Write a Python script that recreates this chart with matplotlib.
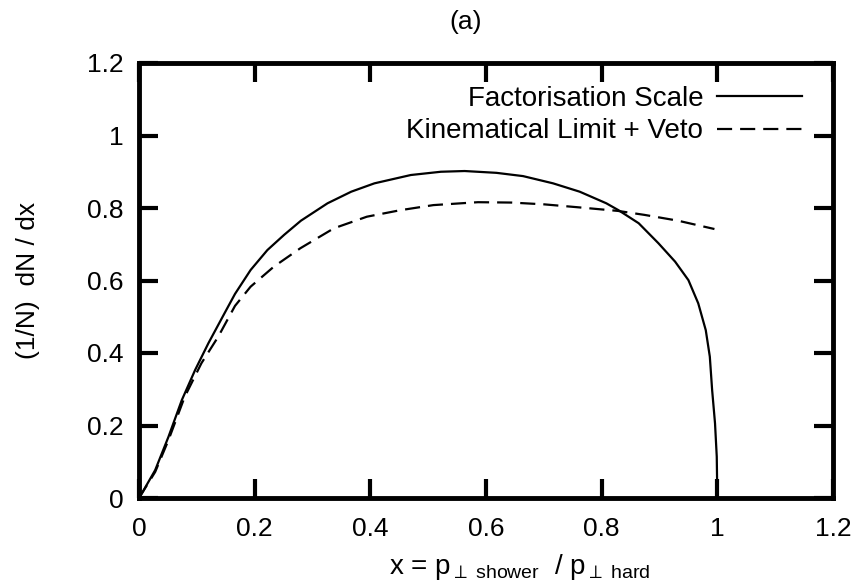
import numpy as np
import matplotlib
matplotlib.use('Agg')
import matplotlib.pyplot as plt

plt.rcParams['font.family'] = ['Liberation Sans', 'DejaVu Sans']
plt.rcParams['mathtext.fontset'] = 'custom'
plt.rcParams['mathtext.rm'] = 'Liberation Sans'
plt.rcParams['mathtext.it'] = 'Liberation Sans'

# DATA --------------------------------------------------------------------->
x_fact = [0.0, 0.005, 0.028, 0.051, 0.074, 0.097, 0.120, 0.148, 0.166, 0.193,
          0.222, 0.251, 0.280, 0.326, 0.367, 0.407, 0.470, 0.522, 0.563, 0.618,
          0.664, 0.716, 0.762, 0.808, 0.829, 0.864, 0.898, 0.927, 0.950, 0.967,
          0.980, 0.987, 0.991, 0.996, 0.999, 1.0]
y_fact = [0.0, 0.013, 0.077, 0.169, 0.270, 0.353, 0.427, 0.510, 0.563, 0.629,
          0.684, 0.726, 0.765, 0.813, 0.845, 0.868, 0.891, 0.900, 0.902, 0.897,
          0.888, 0.868, 0.845, 0.813, 0.794, 0.758, 0.703, 0.652, 0.601, 0.537,
          0.463, 0.390, 0.298, 0.206, 0.114, 0.0]

x_kin = [0.0, 0.028, 0.051, 0.079, 0.108, 0.137, 0.166, 0.193, 0.233, 0.279,
         0.337, 0.394, 0.452, 0.509, 0.586, 0.644, 0.701, 0.759, 0.828, 0.874,
         0.932, 0.995]
y_kin = [0.0, 0.072, 0.160, 0.279, 0.372, 0.445, 0.530, 0.583, 0.638, 0.689,
         0.744, 0.776, 0.794, 0.808, 0.816, 0.815, 0.810, 0.802, 0.792, 0.781,
         0.765, 0.742]

ticks = [0, 0.2, 0.4, 0.6, 0.8, 1, 1.2]
tick_labels = ['0', '0.2', '0.4', '0.6', '0.8', '1', '1.2']

# PLOT --------------------------------------------------------------------->
fs = 19
fig = plt.figure(figsize=(8.59, 5.86), dpi=100)
ax = fig.add_axes([139/859, 1-498/586, 694/859, 435/586])

ax.plot(x_fact, y_fact, color='black', lw=1.6, label='Factorisation Scale')
ax.plot(x_kin, y_kin, color='black', lw=1.6, dashes=(6.8, 3.6),
        label='Kinematical Limit + Veto')

ax.set_xlim(0, 1.2)
ax.set_ylim(0, 1.2)
ax.set_xticks(ticks)
ax.set_xticklabels(tick_labels)
ax.set_yticks(ticks)
ax.set_yticklabels(tick_labels)
ax.tick_params(direction='in', length=14, width=3, top=True, right=True,
               labelsize=fs)
ax.tick_params(axis='y', pad=11)
ax.tick_params(axis='x', pad=14)
for s in ax.spines.values():
    s.set_linewidth(3.5)

ax.set_xlabel(r'x = p$_{\perp\ \mathrm{shower}}$  / p$_{\perp\ \mathrm{hard}}$', fontsize=20)
ax.xaxis.set_label_coords(0.549, -0.125)
ax.set_ylabel('(1/N)  dN / dx', fontsize=fs)
ax.yaxis.set_label_coords(-0.143, 0.5)

fig.text(466/859, 1-22/586, '(a)', ha='center', va='center', fontsize=fs)

ax.legend(loc='upper right', frameon=False, markerfirst=False, fontsize=20,
          handlelength=3.05, handletextpad=0.5, labelspacing=0.22,
          bbox_to_anchor=(1-20/694, 1-12/435), borderaxespad=0)

fig.savefig('out.png', dpi=100)
